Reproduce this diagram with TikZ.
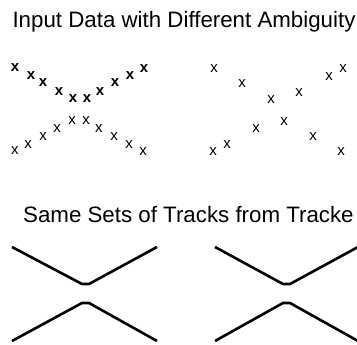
\documentclass[tikz,border=0pt]{standalone}
\usepackage{fontspec}
\setmainfont{Liberation Sans}
\usetikzlibrary{positioning}
\tikzset{
	hit/.style={inner sep=0pt,font=\fontsize{15}{16}\selectfont},
	boldhit/.style={inner sep=0pt,font=\fontsize{15}{16}\selectfont\bfseries},
	heading/.style={inner sep=0pt,font=\fontsize{22.3}{24}\selectfont},
	track/.style={line width=2.6pt,line join=round}
}

\begin{document}
\begin{tikzpicture}[x=1pt,y=-1pt]
				\useasboundingbox (0,0) rectangle (357,345);
				\clip (0,0) rectangle (357,345);
				\node(inputtitle) [heading,anchor=base] at (184,28) {Input Data with Different Ambiguity};
				
				%--------------------------------------------------------------------
				\foreach \px/\py [count=\i] in {15/68,31/76,43/83,59/92,73/99,87/99,100/92,115/83,130/76,144/69}
					\node(densetop\i) [boldhit] at (\px,\py) {x};
				\foreach \px/\py [count=\i] in {15/151,28/145,43/137,57/129,72/121,86/121,99/129,114/137,129/145,143/152}
					\node(densebot\i) [hit] at (\px,\py) {x};
				
				%--------------------------------------------------------------------
				\foreach \px/\py [count=\i] in {214/69,242/84,271/100,299/93,329/77,343/69}
					\node(sparsetop\i) [hit] at (\px,\py) {x};
				\foreach \px/\py [count=\i] in {213/152,227/145,256/129,284/122,313/137,341/152}
					\node(sparsebot\i) [hit] at (\px,\py) {x};
				
				%--------------------------------------------------------------------
				\node(tracktitle) [heading,anchor=base west] at (23,223) {Same Sets of Tracks from Tracke};
				
				\draw[track] (12,247) -- (82,284) -- (89,284) -- (157,247);
				\draw[track] (12,341) -- (82,303) -- (89,303) -- (157,341);
				\draw[track] (215,247) -- (283,284) -- (290,284) -- (358,247);
				\draw[track] (215,341) -- (283,303) -- (290,303) -- (358,341);
			\end{tikzpicture}
\end{document}
